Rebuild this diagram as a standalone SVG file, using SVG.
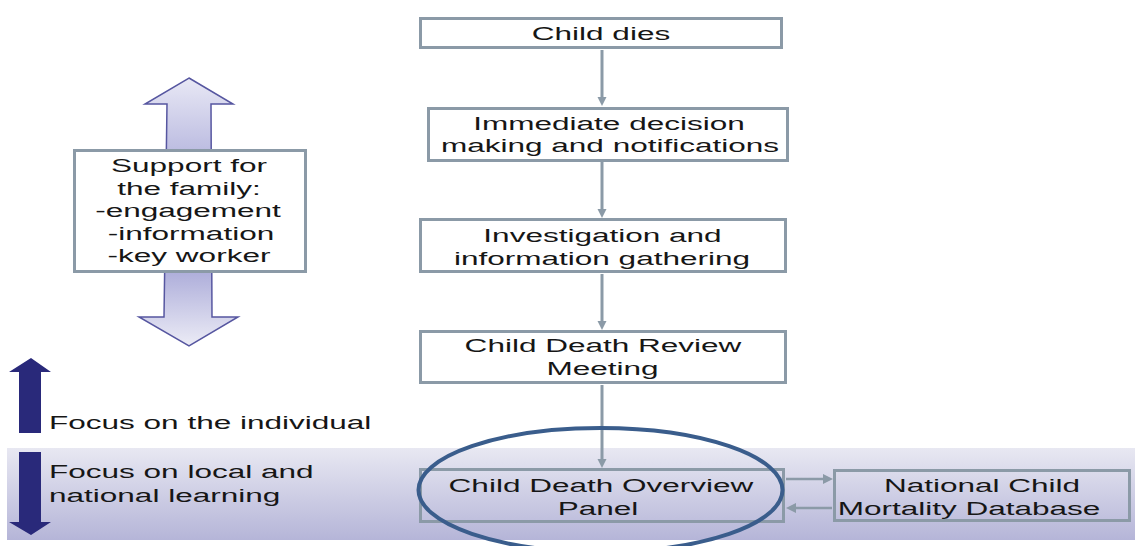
<svg xmlns="http://www.w3.org/2000/svg" width="1135" height="546" viewBox="0 0 1135 546">
<style>
.box{fill:#ffffff;stroke:#8b9aa7;stroke-width:3}
.boxt{fill:none;stroke:#8b9aa7;stroke-width:3}
.t{font-family:"Liberation Sans",Arial,sans-serif;font-size:19px;fill:#161616;text-anchor:middle}
.ts{font-family:"Liberation Sans",Arial,sans-serif;font-size:19px;fill:#161616;text-anchor:start}
.con{stroke:#8b9aa7;stroke-width:3;fill:none}
.con2{stroke:#8b9aa7;stroke-width:2.5;fill:none}
.navy{fill:#29297a}
</style>
<defs>
<linearGradient id="band" x1="0" y1="0" x2="0" y2="1">
<stop offset="0" stop-color="#e8e8f2"/>
<stop offset="1" stop-color="#b5b5d8"/>
</linearGradient>
<linearGradient id="dbl" gradientUnits="userSpaceOnUse" x1="0" y1="78" x2="0" y2="346">
<stop offset="0" stop-color="#e8e8f5"/>
<stop offset="0.3" stop-color="#b8b8df"/>
<stop offset="0.7" stop-color="#a9a9d8"/>
<stop offset="1" stop-color="#ececf6"/>
</linearGradient>
<marker id="ah" viewBox="0 0 10 10" refX="0" refY="5" markerUnits="userSpaceOnUse" markerWidth="9" markerHeight="13" orient="auto">
<path d="M0,0 L10,5 L0,10 z" fill="#8b9aa7"/>
</marker>
<marker id="ah2" viewBox="0 0 10 10" refX="0" refY="5" markerUnits="userSpaceOnUse" markerWidth="10" markerHeight="10" orient="auto">
<path d="M0,0 L10,5 L0,10 z" fill="#8b9aa7"/>
</marker>
</defs>
<rect width="1135" height="546" fill="#ffffff"/>
<rect id="band-bg" x="7" y="448" width="1128" height="92" fill="url(#band)"/>

<g id="connectors">
<line class="con" x1="602" y1="50" x2="602" y2="97" marker-end="url(#ah)"/>
<line class="con" x1="602" y1="162" x2="602" y2="209" marker-end="url(#ah)"/>
<line class="con" x1="602" y1="274" x2="602" y2="321" marker-end="url(#ah)"/>
<line class="con" x1="602" y1="385" x2="602" y2="459" marker-end="url(#ah)"/>
<line class="con2" x1="786" y1="479" x2="823" y2="479" marker-end="url(#ah2)"/>
<line class="con2" x1="832" y1="508" x2="796" y2="508" marker-end="url(#ah2)"/>
</g>

<g id="family-support">
<polygon points="189,78 233,104 211,104 212,317 238,317 189,346 139,317 164,317 167,104 145,104" fill="url(#dbl)" stroke="#5656a0" stroke-width="1.5" stroke-linejoin="miter"/>
<rect class="box" x="74.5" y="150.5" width="231" height="121"/>
<text class="t" transform="translate(189,171.5) scale(1.66,1)">Support for</text>
<text class="t" transform="translate(189,194.5) scale(1.66,1)">the family:</text>
<text class="t" transform="translate(188,217) scale(1.66,1)">-engagement</text>
<text class="t" transform="translate(191,240) scale(1.66,1)">-information</text>
<text class="t" transform="translate(189,262) scale(1.66,1)">-key worker</text>
</g>

<g id="child-dies">
<rect class="box" x="420.5" y="18.5" width="361" height="29"/>
<text class="t" transform="translate(601,40) scale(1.66,1)">Child dies</text>
</g>

<g id="immediate">
<rect class="box" x="428.5" y="108.5" width="359" height="52"/>
<text class="t" transform="translate(609,130) scale(1.66,1)">Immediate decision</text>
<text class="t" transform="translate(610,152) scale(1.66,1)">making and notifications</text>
</g>

<g id="investigation">
<rect class="box" x="420.5" y="219.5" width="365" height="52"/>
<text class="t" transform="translate(602.5,241.5) scale(1.66,1)">Investigation and</text>
<text class="t" transform="translate(602,265) scale(1.66,1)">information gathering</text>
</g>

<g id="review-meeting">
<rect class="box" x="420.5" y="331.5" width="365" height="51"/>
<text class="t" transform="translate(603,352) scale(1.66,1)">Child Death Review</text>
<text class="t" transform="translate(602.5,375) scale(1.66,1)">Meeting</text>
</g>

<g id="focus-individual">
<polygon class="navy" points="31,358 51,372 41,372 41,433 19,433 19,372 9,372"/>
<text class="ts" transform="translate(49,429) scale(1.66,1)">Focus on the individual</text>
</g>

<g id="focus-learning">
<polygon class="navy" points="19,452 41,452 41,522 51,522 31,535 9,522 19,522"/>
<text class="ts" transform="translate(49,478) scale(1.66,1)">Focus on local and</text>
<text class="ts" transform="translate(49,501.5) scale(1.66,1)">national learning</text>
</g>

<g id="overview-panel">
<rect class="boxt" x="420.5" y="469.5" width="363" height="52"/>
<text class="t" transform="translate(601,492) scale(1.66,1)">Child Death Overview</text>
<text class="t" transform="translate(598,515) scale(1.66,1)">Panel</text>
</g>

<g id="national-database">
<rect class="boxt" x="834.5" y="470.5" width="295" height="50"/>
<text class="t" transform="translate(982,492) scale(1.66,1)">National Child</text>
<text class="t" transform="translate(969,515) scale(1.66,1)">Mortality Database</text>
</g>

<g id="highlight">
<ellipse cx="600.5" cy="490" rx="182" ry="62" fill="none" stroke="#3a5d8c" stroke-width="4"/>
</g>
</svg>
